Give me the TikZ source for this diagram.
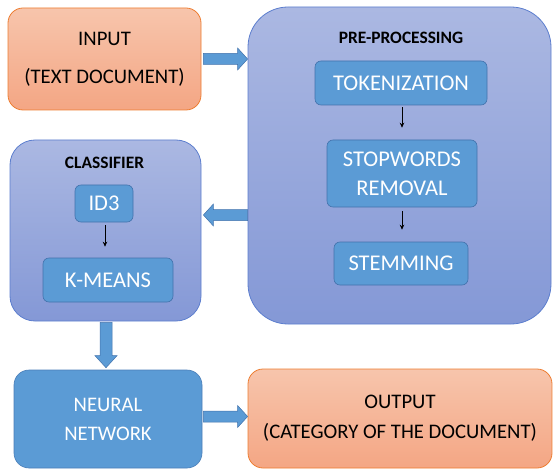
\documentclass[tikz,border=0pt]{standalone}
\usepackage{fontspec}
\setmainfont{Carlito}
\usetikzlibrary{calc,arrows.meta}
\definecolor{orTop}{RGB}{247,197,172}
\definecolor{orBot}{RGB}{244,166,132}
\definecolor{orLine}{RGB}{237,125,49}
\definecolor{blTop}{RGB}{171,184,226}
\definecolor{blBot}{RGB}{132,152,214}
\definecolor{blLine}{RGB}{92,126,206}
\definecolor{acc}{RGB}{91,155,213}
\definecolor{accLine}{RGB}{66,114,172}
\tikzset{
  orbox/.style={draw=orLine, line width=0.8pt, top color=orTop, bottom color=orBot,
    rounded corners=15pt, align=center, font=\fontsize{20.7}{38}\selectfont},
  container/.style={draw=blLine, line width=0.8pt, top color=blTop, bottom color=blBot},
  innerbox/.style={draw=accLine, line width=0.6pt, fill=acc, rounded corners=6pt,
    text=white, align=center, font=\fontsize{22.5}{29}\selectfont},
  nnbox/.style={draw=accLine!70!acc, line width=0.6pt, fill=acc, rounded corners=15pt,
    text=white, align=center, font=\fontsize{20.7}{29}\selectfont},
  titletext/.style={font=\fontsize{17.4}{20}\selectfont\bfseries},
  fat/.style={fill=acc, draw=accLine, line width=0.5pt},
  smallarr/.style={-{Stealth[length=5pt,width=4.5pt]}, line width=0.8pt},
}
\newcommand\hfat[2]{\draw[fat] let \p1=(#1), \p2=(#2), \n1={ifthenelse(\x2>\x1,1,-1)},
  \n2={\x2-10pt*\n1} in
  (\x1,\y1+5.5pt) -- (\n2,\y1+5.5pt) -- (\n2,\y1+11pt) -- (\x2,\y1)
  -- (\n2,\y1-11pt) -- (\n2,\y1-5.5pt) -- (\x1,\y1-5.5pt) -- cycle;}
\newcommand\vfatdown[2]{\draw[fat] let \p1=(#1), \p2=(#2) in
  (\x1+6pt,\y1) -- (\x1+6pt,\y2+12pt) -- (\x1+11pt,\y2+12pt) -- (\x1,\y2)
  -- (\x1-11pt,\y2+12pt) -- (\x1-6pt,\y2+12pt) -- (\x1-6pt,\y1) -- cycle;}
\begin{document}
\begin{tikzpicture}[x=1pt,y=-1pt]
\useasboundingbox (0,0) rectangle (553,470);
% containers
\node[orbox, minimum width=193pt, minimum height=102pt] (input) at (104.5,59)
  {INPUT\\(TEXT DOCUMENT)};
\node[container, rounded corners=40pt, minimum width=303pt, minimum height=317pt] (pre) at (399.5,165.5) {};
\node[container, rounded corners=25pt, minimum width=191pt, minimum height=181pt] (cls) at (105.5,230.5) {};
\node[nnbox, minimum width=188pt, minimum height=98pt] (nn) at (108,419) {NEURAL\\NETWORK};
\node[orbox, font=\fontsize{20.7}{30}\selectfont, minimum width=304pt, minimum height=99pt] (out) at (400,418.5)
  {OUTPUT\\(CATEGORY OF THE DOCUMENT)};
% titles
\node[titletext] (pretitle) at (401,38) {PRE-PROCESSING};
\node[titletext] (clstitle) at (104.5,163) {CLASSIFIER};
% inner boxes
\node[innerbox, minimum width=172pt, minimum height=44pt] (tok) at (401,83) {TOKENIZATION};
\node[innerbox, minimum width=150pt, minimum height=67pt] (stop) at (402,173.5) {STOPWORDS\\REMOVAL};
\node[innerbox, minimum width=134pt, minimum height=43pt] (stem) at (401,263.5) {STEMMING};
\node[innerbox, minimum width=58pt, minimum height=37pt] (id3) at (104,203.5) {ID3};
\node[innerbox, minimum width=130pt, minimum height=44pt] (km) at (108,280) {K-MEANS};
% small arrows
\draw[smallarr] ($(tok.south)+(1,2)$) -- ($(stop.north)+(0,-12)$);
\draw[smallarr] ($(stop.south)+(0,4)$) -- ($(stem.north)+(1,-12)$);
\draw[smallarr] ($(id3.south)+(1,3)$) -- ($(km.north)+(-3,-11)$);
% block arrows
\hfat{$(input.east)+(2,0)$}{pre.west}
\hfat{$(pre.west)+(0,49.5)$}{$(cls.east)+(2,0)$}
\hfat{$(nn.east)+(1,-2.5)$}{out.west}
\vfatdown{$(cls.south)+(0.5,1)$}{$(nn.north)+(-2,-2)$}
\end{tikzpicture}
\end{document}
